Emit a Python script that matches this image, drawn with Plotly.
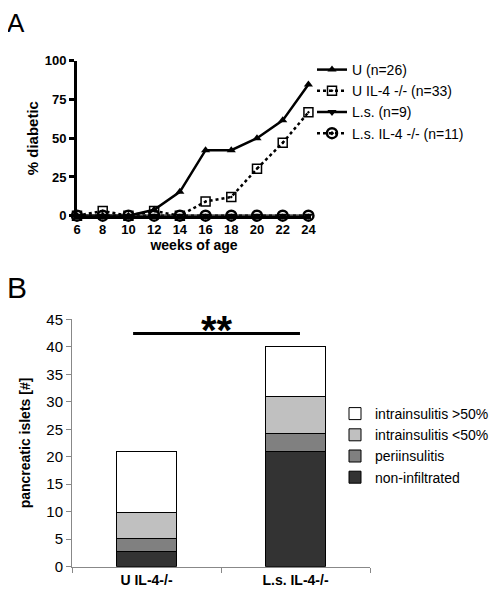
import plotly.graph_objects as go

# ---- Panel A data ----
weeks = [6, 8, 10, 12, 14, 16, 18, 20, 22, 24]
u_vals = [0, 0, 0, 3.8, 15.4, 42.3, 42.3, 50.0, 61.5, 84.6]
u_il4_vals = [0, 3.0, 0, 3.0, 0, 9.1, 12.1, 30.3, 47.0, 66.7]
ls_vals = [0, 0, 0, 0, 0, 0, 0, 0, 0, 0]
ls_il4_vals = [0, 0, 0, 0, 0, 0, 0, 0, 0, 0]
a_y_ticks = [0, 25, 50, 75, 100]

# ---- Panel B data ----
groups = ["U IL-4-/-", "L.s. IL-4-/-"]
non_infiltrated = [2.7, 21.0]
periinsulitis = [2.4, 3.2]
intra_lt50 = [4.8, 6.8]
intra_gt50 = [11.1, 9.1]
b_y_ticks = [0, 5, 10, 15, 20, 25, 30, 35, 40, 45]

FONT = "Liberation Sans, Arial, sans-serif"
OFF = 8  # page body margin
W, H = 497 - OFF, 601 - OFF

def px_x(p):
    return (p - OFF) / W

def px_y(p):
    return 1 - (p - OFF) / H

fig = go.Figure()

# Panel A traces
fig.add_trace(go.Scatter(x=weeks, y=ls_il4_vals, name="L.s. IL-4 -/- (n=11)", mode="lines+markers",
                         line=dict(color="black", width=2.5, dash="dot"),
                         marker=dict(symbol="circle-open-dot", size=10, color="black", line=dict(width=2.5)),
                         xaxis="x", yaxis="y", legend="legend", cliponaxis=False, legendrank=4))
fig.add_trace(go.Scatter(x=weeks, y=ls_vals, name="L.s. (n=9)", mode="lines+markers",
                         line=dict(color="black", width=2.5),
                         marker=dict(symbol="triangle-down", size=8, color="black"),
                         xaxis="x", yaxis="y", legend="legend", cliponaxis=False, legendrank=3))
fig.add_trace(go.Scatter(x=weeks, y=u_il4_vals, name="U IL-4 -/- (n=33)", mode="lines+markers",
                         line=dict(color="black", width=2.5, dash="dot"),
                         marker=dict(symbol="square-open-dot", size=9, color="black", line=dict(width=1.5)),
                         xaxis="x", yaxis="y", legend="legend", cliponaxis=False, legendrank=2))
fig.add_trace(go.Scatter(x=weeks, y=u_vals, name="U (n=26)", mode="lines+markers",
                         line=dict(color="black", width=2.5),
                         marker=dict(symbol="triangle-up", size=8, color="black"),
                         xaxis="x", yaxis="y", legend="legend", cliponaxis=False, legendrank=1))

# Panel B traces
bar_specs = [
    ("non-infiltrated", non_infiltrated, "#333333", 4),
    ("periinsulitis", periinsulitis, "#808080", 3),
    ("intrainsulitis <50%", intra_lt50, "#c0c0c0", 2),
    ("intrainsulitis >50%", intra_gt50, "#ffffff", 1),
]
for nm, vals, col, rank in bar_specs:
    fig.add_trace(go.Bar(x=groups, y=vals, name=nm, marker=dict(color=col, line=dict(color="black", width=1)),
                         width=0.4, xaxis="x2", yaxis="y2", legend="legend2", legendrank=rank))

fig.update_layout(
    width=W, height=H,
    margin=dict(l=0, r=0, t=0, b=0, autoexpand=False),
    paper_bgcolor="white", plot_bgcolor="white",
    font=dict(family=FONT, color="black"),
    barmode="stack",
    xaxis=dict(domain=[px_x(77), px_x(311)], range=[6, 24.2], tickvals=weeks,
               showline=True, linecolor="black", linewidth=3, showgrid=False, zeroline=False,
               ticks="", tickfont=dict(size=13, family=FONT, weight="bold"), automargin=False,
               title=dict(text="<b>weeks of age</b>", font=dict(size=14), standoff=2)),
    yaxis=dict(domain=[px_y(215.7), px_y(60.7)], range=[0, 100], tickvals=a_y_ticks,
               showline=True, linecolor="black", linewidth=3, showgrid=False, zeroline=False,
               ticks="outside", ticklen=5, tickwidth=2.5, tickcolor="black", automargin=False,
               tickfont=dict(size=13, family=FONT, weight="bold"),
               title=dict(text="<b>% diabetic</b>", font=dict(size=15), standoff=3)),
    xaxis2=dict(domain=[px_x(72), px_x(370)], range=[-0.5, 1.5], anchor="y2",
                showline=True, linecolor="#888888", linewidth=1, showgrid=False, automargin=False,
                ticks="outside", tickson="boundaries", ticklen=5, tickcolor="#888888",
                tickfont=dict(size=14, family=FONT, weight="bold")),
    yaxis2=dict(domain=[px_y(566.7), px_y(319.3)], range=[0, 45], tickvals=b_y_ticks, anchor="x2",
                showline=True, linecolor="#888888", linewidth=1, showgrid=False, zeroline=False,
                ticks="outside", ticklen=5, tickcolor="#888888", automargin=False,
                tickfont=dict(size=15, family=FONT),
                title=dict(text="<b>pancreatic islets [#]</b>", font=dict(size=14), standoff=12)),
    legend=dict(x=px_x(312), y=px_y(54), xanchor="left", yanchor="top",
                font=dict(size=14, family=FONT), bgcolor="rgba(0,0,0,0)",
                traceorder="normal"),
    legend2=dict(x=px_x(335), y=px_y(398), xanchor="left", yanchor="top",
                 font=dict(size=14, family=FONT), bgcolor="rgba(0,0,0,0)",
                 traceorder="normal"),
    shapes=[dict(type="line", xref="x2", yref="y2", x0=-0.09, x1=1.03, y0=42.4, y1=42.4,
                 line=dict(color="black", width=3))],
    annotations=[
        dict(text="A", x=px_x(5), y=px_y(23), xref="paper", yref="paper", xanchor="left", yanchor="middle",
             showarrow=False, font=dict(size=26, family=FONT)),
        dict(text="B", x=px_x(5), y=px_y(287), xref="paper", yref="paper", xanchor="left", yanchor="middle",
             showarrow=False, font=dict(size=30, family=FONT)),
        dict(text="<b>**</b>", x=0.47, y=43.1, xref="x2", yref="y2", xanchor="center", yanchor="middle",
             showarrow=False, font=dict(size=40, family=FONT)),
    ],
)

fig.write_html("out.html")
